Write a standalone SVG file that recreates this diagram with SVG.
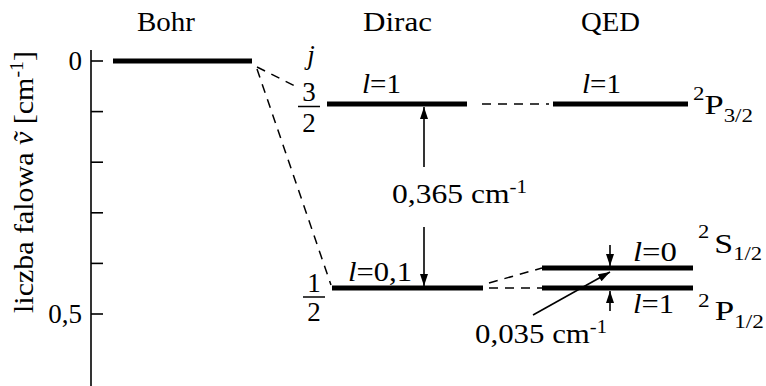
<svg xmlns="http://www.w3.org/2000/svg" width="766" height="386" viewBox="0 0 766 386">
<style>
.t{font-size:27px}
.s{font-size:18px}
.lvl{stroke:#000;stroke-width:5;fill:none}
.ax{stroke:#000;stroke-width:1.6;fill:none}
.dash{stroke:#000;stroke-width:1.5;stroke-dasharray:9 7;fill:none}
.arr{stroke:#000;stroke-width:1.6;fill:none}
.it{font-style:italic}
</style>
<defs>
<marker id="ah" viewBox="0 0 12 8" refX="12" refY="4" markerWidth="12" markerHeight="8" markerUnits="userSpaceOnUse" orient="auto">
<path d="M0,0 L12,4 L0,8 Z" fill="#000"/>
</marker>
</defs>
<rect width="766" height="386" fill="#fff"/>
<g font-family="Liberation Serif, serif" fill="#000">

<g id="axis">
<line class="ax" x1="91" y1="50" x2="91" y2="386"/>
<line class="ax" x1="91" y1="61" x2="103" y2="61"/>
<line class="ax" x1="91" y1="111.6" x2="103" y2="111.6"/>
<line class="ax" x1="91" y1="162.2" x2="103" y2="162.2"/>
<line class="ax" x1="91" y1="212.8" x2="103" y2="212.8"/>
<line class="ax" x1="91" y1="263.4" x2="103" y2="263.4"/>
<line class="ax" x1="91" y1="314" x2="103" y2="314"/>
<text class="t" x="82" y="70" text-anchor="end">0</text>
<text class="t" x="82" y="323" text-anchor="end">0,5</text>
<text class="t" transform="translate(33,51) rotate(-90)" x="-262" y="0" textLength="262" lengthAdjust="spacingAndGlyphs">liczba falowa <tspan class="it">ṽ</tspan> [cm<tspan class="s" dy="-10">-1</tspan><tspan dy="10">]</tspan></text>
</g>

<g id="headers">
<text class="t" x="137" y="31" textLength="58" lengthAdjust="spacingAndGlyphs">Bohr</text>
<text class="t" x="363" y="31" textLength="69" lengthAdjust="spacingAndGlyphs">Dirac</text>
<text class="t" x="581" y="31" textLength="59" lengthAdjust="spacingAndGlyphs">QED</text>
</g>

<g id="bohr-level">
<line class="lvl" x1="113" y1="61" x2="252" y2="61"/>
</g>

<g id="j-label">
<text class="t it" x="311" y="64" text-anchor="middle">j</text>
</g>

<g id="dirac-32">
<line class="lvl" x1="327" y1="104" x2="467" y2="104"/>
<text class="t" x="309" y="101" text-anchor="middle">3</text>
<line x1="298" y1="106.5" x2="320" y2="106.5" stroke="#000" stroke-width="1.5"/>
<text class="t" x="309" y="132" text-anchor="middle">2</text>
<text class="t" x="362" y="93" textLength="39" lengthAdjust="spacingAndGlyphs"><tspan class="it">l</tspan>=1</text>
</g>

<g id="dirac-12">
<line class="lvl" x1="332" y1="288" x2="483" y2="288"/>
<text class="t" x="314" y="292" text-anchor="middle">1</text>
<line x1="303" y1="297" x2="325" y2="297" stroke="#000" stroke-width="1.5"/>
<text class="t" x="314" y="321" text-anchor="middle">2</text>
<text class="t" x="348" y="281" textLength="64" lengthAdjust="spacingAndGlyphs"><tspan class="it">l</tspan>=0,1</text>
</g>

<g id="qed-p32">
<line class="lvl" x1="553" y1="104" x2="688" y2="104"/>
<text class="t" x="582" y="93" textLength="39" lengthAdjust="spacingAndGlyphs"><tspan class="it">l</tspan>=1</text>
<text class="t" x="693" y="114" textLength="60" lengthAdjust="spacingAndGlyphs"><tspan class="s" dy="-14">2</tspan><tspan dy="14">P</tspan><tspan class="s" dy="8">3/2</tspan></text>
</g>

<g id="qed-s12">
<line class="lvl" x1="542" y1="268" x2="693" y2="268"/>
<text class="t" x="633" y="261" textLength="44" lengthAdjust="spacingAndGlyphs"><tspan class="it">l</tspan>=0</text>
<text class="t" x="698" y="253" textLength="64" lengthAdjust="spacingAndGlyphs"><tspan class="s" dy="-15">2</tspan><tspan dy="15" dx="4">S</tspan><tspan class="s" dy="7">1/2</tspan></text>
</g>

<g id="qed-p12">
<line class="lvl" x1="542" y1="288" x2="693" y2="288"/>
<text class="t" x="633" y="313" textLength="41" lengthAdjust="spacingAndGlyphs"><tspan class="it">l</tspan>=1</text>
<text class="t" x="698" y="320" textLength="66" lengthAdjust="spacingAndGlyphs"><tspan class="s" dy="-13">2</tspan><tspan dy="13" dx="4">P</tspan><tspan class="s" dy="8">1/2</tspan></text>
</g>

<g id="labels">
<text class="t" x="392" y="203" textLength="135" lengthAdjust="spacingAndGlyphs">0,365 cm<tspan class="s" dy="-10">-1</tspan></text>
<text class="t" x="475" y="343" textLength="132" lengthAdjust="spacingAndGlyphs">0,035 cm<tspan class="s" dy="-10">-1</tspan></text>
</g>

<g id="connectors">
<line class="dash" x1="257" y1="67" x2="299" y2="88"/>
<line class="dash" x1="257" y1="69" x2="331" y2="285"/>
<line class="dash" x1="482" y1="104" x2="549" y2="104"/>
<line class="dash" x1="489" y1="283" x2="542" y2="268"/>
<line class="dash" x1="489" y1="288" x2="542" y2="288"/>
<line class="arr" x1="424" y1="167" x2="424" y2="107" marker-end="url(#ah)"/>
<line class="arr" x1="424" y1="227" x2="424" y2="286" marker-end="url(#ah)"/>
<line class="arr" x1="610" y1="245" x2="610" y2="266" marker-end="url(#ah)"/>
<line class="arr" x1="610" y1="311" x2="610" y2="291" marker-end="url(#ah)"/>
<line class="arr" x1="533" y1="315" x2="610" y2="272" marker-end="url(#ah)"/>
</g>
</g>
</svg>
